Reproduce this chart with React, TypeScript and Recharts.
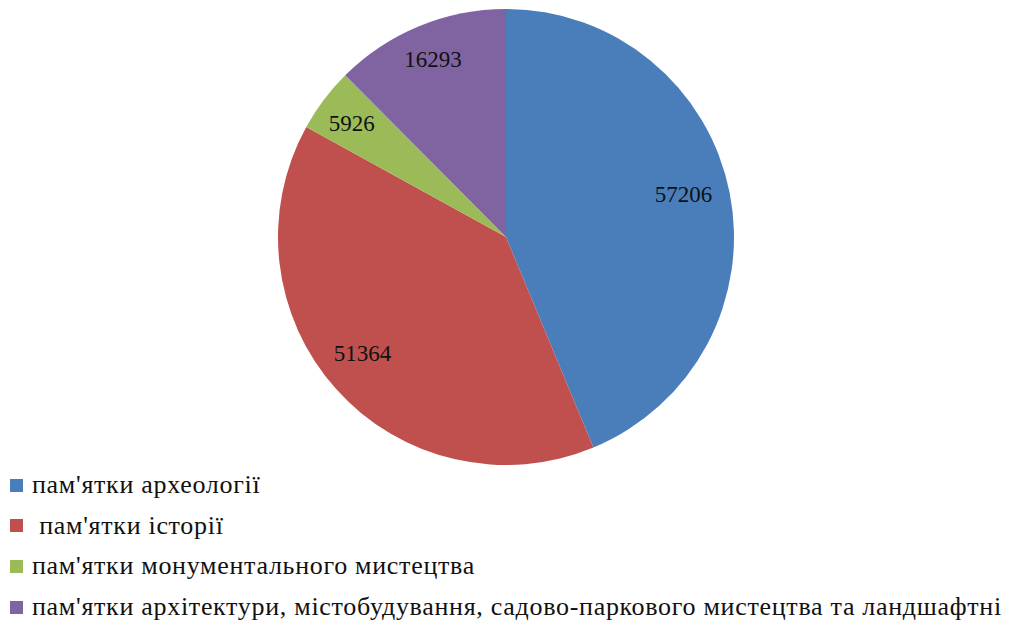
import { PieChart, Pie, Cell, Legend } from "recharts";

const categories = [
  "пам'ятки археології",
  " пам'ятки історії",
  "пам'ятки монументального мистецтва",
  "пам'ятки архітектури, містобудування, садово-паркового мистецтва та ландшафтні",
];
const values = [57206, 51364, 5926, 16293];
const colors = ["#4A7EBB", "#C0504D", "#9BBB59", "#8064A2"];

const data = categories.map((name, i) => ({ name, value: values[i], color: colors[i] }));

const FONT = "'Liberation Serif', 'Times New Roman', 'DejaVu Serif', serif";
const RAD = Math.PI / 180;
// label placement tuning: share of radius and small angle nudge (deg)
const labelShare = [0.8, 0.81, 0.84, 0.84];
const labelNudge = [2.1, -2.8, 0.6, 0];

const renderLabel = (props: any) => {
  const { cx, cy, midAngle, outerRadius, index, value } = props;
  const r = outerRadius * labelShare[index];
  const a = (midAngle + labelNudge[index]) * RAD;
  const x = cx + r * Math.cos(-a);
  const y = cy + r * Math.sin(-a);
  return (
    <text
      x={x}
      y={y}
      fill="#111"
      textAnchor="middle"
      dominantBaseline="central"
      style={{ fontFamily: FONT, fontSize: 23 }}
    >
      {value}
    </text>
  );
};

const renderLegend = () => (
  <div style={{ fontFamily: FONT, fontSize: 26, letterSpacing: 0.7, color: "#111" }}>
    {data.map((item) => (
      <div key={item.name} style={{ display: "flex", alignItems: "center", height: 40.6, whiteSpace: "pre" }}>
        <div style={{ width: 13, height: 13, background: item.color, marginLeft: 10, marginRight: 9, flexShrink: 0 }} />
        <span>{item.name}</span>
      </div>
    ))}
  </div>
);

export default function App() {
  return (
    <div style={{ position: "absolute", left: 0, top: 0, width: 1011, height: 626, background: "#fff" }}>
      <PieChart width={1011} height={626} margin={{ top: 0, right: 0, bottom: 0, left: 0 }}>
        <Pie
          data={data}
          dataKey="value"
          nameKey="name"
          cx={506}
          cy={237}
          outerRadius={228}
          startAngle={90}
          endAngle={-270}
          stroke="none"
          label={renderLabel}
          labelLine={false}
          isAnimationActive={false}
        >
          {data.map((entry, index) => (
            <Cell key={`cell-${index}`} fill={entry.color} />
          ))}
        </Pie>
        <Legend
          layout="horizontal"
          verticalAlign="bottom"
          align="left"
          content={renderLegend}
          wrapperStyle={{ left: 0, top: 465, bottom: "auto", width: 1011 }}
        />
      </PieChart>
    </div>
  );
}
